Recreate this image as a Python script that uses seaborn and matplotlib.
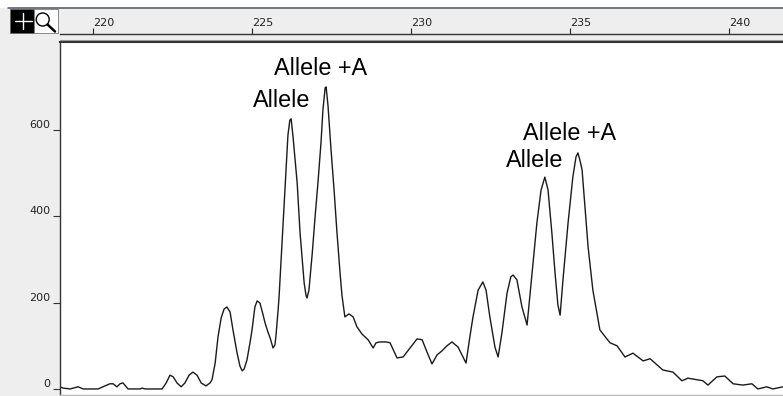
"""Electropherogram view: two allele / allele+A doublets (fragment sizes 219-242 bp)."""

import matplotlib

matplotlib.use("Agg")

import matplotlib.pyplot as plt
import pandas as pd
import seaborn as sns
from matplotlib.patches import Circle, Rectangle

# trace: fragment size (bp) and signal (RFU), split by region
baseline_bp = [218.96, 219.06, 219.28, 219.53, 219.69, 220.16, 220.31, 220.53, 220.63,
               220.75, 220.85, 220.94, 221.10, 221.48, 221.54, 221.64, 222.17,
               222.30, 222.42, 222.52, 222.64, 222.77, 222.89, 223.02, 223.14,
               223.27, 223.40, 223.55, 223.68]
baseline_rfu = [5, 2, 0, 5, 0, 0, 5, 12, 12, 5, 12, 14, 0, 0, 2, 0, 0,
                14, 32, 28, 14, 5, 14, 32, 39, 32, 14, 7, 14]

stutter_bp = [223.74, 223.84, 223.93, 224.03, 224.12, 224.21, 224.31, 224.40, 224.53,
              224.62, 224.69, 224.75, 224.84, 224.94, 225.00, 225.09, 225.16, 225.25,
              225.35, 225.41, 225.50, 225.57, 225.66, 225.72, 225.75, 225.82, 225.85]
stutter_rfu = [21, 60, 121, 165, 185, 190, 178, 137, 83, 53, 42, 46, 67, 109, 137,
               190, 204, 199, 171, 153, 132, 118, 95, 102, 121, 183, 213]

pair1_bp = [225.94, 226.04, 226.13, 226.19, 226.23, 226.29, 226.42, 226.51, 226.64,
            226.70, 226.73, 226.79, 226.89, 226.98, 227.08, 227.17, 227.23, 227.30,
            227.33, 227.39, 227.48, 227.58, 227.67, 227.77, 227.83, 227.92, 228.05,
            228.18, 228.30, 228.46, 228.65, 228.81, 228.90, 229.03, 229.21, 229.34,
            229.56, 229.75, 229.97, 230.19, 230.35, 230.50, 230.66, 230.82, 230.97,
            231.13, 231.29, 231.48, 231.60, 231.73]
pair1_rfu = [334, 466, 589, 623, 626, 584, 477, 362, 245, 216, 211, 229, 311, 396,
             484, 572, 647, 698, 700, 656, 559, 461, 364, 267, 216, 167, 174, 167,
             144, 127, 114, 95, 107, 109, 109, 107, 72, 74, 95, 116, 114, 86, 58,
             79, 88, 100, 109, 97, 79, 60]

stutter2_bp = [231.86, 231.95, 232.11, 232.26, 232.36, 232.48, 232.64, 232.74, 232.86,
               233.02, 233.14, 233.21, 233.33, 233.49, 233.65]
stutter2_rfu = [125, 167, 229, 248, 229, 167, 97, 74, 130, 222, 260, 264, 253, 190, 148]

pair2_bp = [233.81, 233.96, 234.09, 234.21, 234.31, 234.43, 234.53, 234.62, 234.69,
            234.78, 234.94, 235.09, 235.19, 235.25, 235.31, 235.38, 235.47, 235.57,
            235.72, 235.94, 236.16, 236.26, 236.48, 236.73, 236.98, 237.30, 237.52,
            237.92, 238.24, 238.52, 238.71, 239.18, 239.34, 239.62, 239.87, 240.13,
            240.44, 240.72, 240.91, 241.19, 241.38, 241.70]
pair2_rfu = [269, 385, 461, 491, 461, 362, 269, 195, 171, 253, 385, 491, 538, 547,
             531, 508, 422, 329, 229, 137, 116, 107, 100, 74, 83, 65, 70, 44, 39, 19,
             25, 19, 9, 28, 30, 12, 9, 12, 0, 5, 0, 5]

# peak labels: text, left edge (bp), baseline (RFU)
peak_labels = [
    ("Allele", 225.04, 653),
    ("Allele +A", 225.69, 728),
    ("Allele", 232.98, 514),
    ("Allele +A", 233.53, 577),
]

size_ticks = [220, 225, 230, 235, 240]
rfu_ticks = [0, 200, 400, 600]

W, H = 783, 396
BG = "#eeeeee"
INK = "#222222"


def fx(px):
    return px / W


def fy(py):
    return 1 - py / H


def main():
    sns.set_theme(style="white")
    plt.rcParams["font.family"] = ["DejaVu Sans"]

    trace = pd.DataFrame(
        {
            "size": baseline_bp + stutter_bp + pair1_bp + stutter2_bp + pair2_bp,
            "rfu": baseline_rfu + stutter_rfu + pair1_rfu + stutter2_rfu + pair2_rfu,
        }
    )

    fig = plt.figure(figsize=(W / 100, H / 100), dpi=100, facecolor=BG)
    xlim = (218.96, 241.70)

    # main trace panel
    ax = fig.add_axes([fx(60), fy(395), fx(783) - fx(60), fy(42) - fy(395)])
    ax.set_facecolor("white")
    sns.lineplot(data=trace, x="size", y="rfu", ax=ax, color="#1a1a1a",
                 linewidth=1.0, estimator=None, sort=False)
    ax.set_xlim(*xlim)
    ax.set_ylim(-14, 804)
    ax.set_xticks([])
    ax.set_yticks(rfu_ticks)
    ax.set_yticklabels([str(t) for t in rfu_ticks])
    ax.tick_params(axis="y", direction="out", length=5, width=0.8, color="#333333",
                   pad=2, labelsize=8, labelcolor=INK, left=True)
    for lbl in ax.get_yticklabels():
        lbl.set_verticalalignment("bottom")
    ax.set_xlabel("")
    ax.set_ylabel("")
    ax.grid(False)
    ax.spines["right"].set_visible(False)
    ax.spines["left"].set_color("#333333")
    ax.spines["left"].set_linewidth(1.0)
    ax.spines["top"].set_color("#333333")
    ax.spines["top"].set_linewidth(1.5)
    ax.spines["bottom"].set_color("#bbbbbb")
    ax.spines["bottom"].set_linewidth(1.0)

    for text, bp, rfu in peak_labels:
        ax.text(bp, rfu, text, ha="left", va="baseline", fontsize=16.8,
                family=["Liberation Sans", "DejaVu Sans"], color="black")

    # size ruler above the trace
    rax = fig.add_axes([fx(60), fy(33.5), fx(783) - fx(60), fy(9) - fy(33.5)])
    rax.set_facecolor(BG)
    rax.set_xlim(*xlim)
    rax.set_ylim(0, 1)
    rax.set_yticks([])
    rax.set_xticks(size_ticks)
    rax.set_xticklabels([str(t) for t in size_ticks])
    rax.tick_params(axis="x", direction="in", length=4, width=0.8, color=INK,
                    pad=-11, labelsize=8, labelcolor=INK, bottom=True)
    for lbl in rax.get_xticklabels():
        lbl.set_horizontalalignment("left")
    for side in ("top", "left", "right"):
        rax.spines[side].set_visible(False)
    rax.spines["bottom"].set_color("#333333")
    rax.spines["bottom"].set_linewidth(1.0)
    rax.grid(False)

    # window chrome: top strip, separator lines and the two tool icons
    oax = fig.add_axes([0, 0, 1, 1], zorder=5)
    oax.set_xlim(0, W)
    oax.set_ylim(H, 0)
    oax.axis("off")
    oax.patch.set_alpha(0)
    oax.add_patch(Rectangle((0, 0), W, 7.5, color="white", lw=0))
    oax.plot([8, W], [8.3, 8.3], color="#4d5266", lw=1.1)
    oax.plot([60, W], [40.3, 40.3], color="#999999", lw=0.8)

    oax.add_patch(Rectangle((9.5, 9.3), 24.8, 24, facecolor="black",
                            edgecolor="#666666", lw=0.6))
    oax.plot([15, 31.5], [21, 21], color="white", lw=1.0)
    oax.plot([23.3, 23.3], [12.8, 29.3], color="white", lw=1.0)
    oax.add_patch(Rectangle((34.3, 9.3), 24, 24, facecolor="white",
                            edgecolor="#777777", lw=0.6))
    oax.add_patch(Circle((42.7, 19.5), 6.5, facecolor="none", edgecolor="black", lw=1.0))
    oax.plot([47.5, 55], [24.5, 31.5], color="black", lw=1.8, solid_capstyle="round")

    fig.savefig("out.png", dpi=100, facecolor=BG)
    plt.close(fig)


if __name__ == "__main__":
    main()
